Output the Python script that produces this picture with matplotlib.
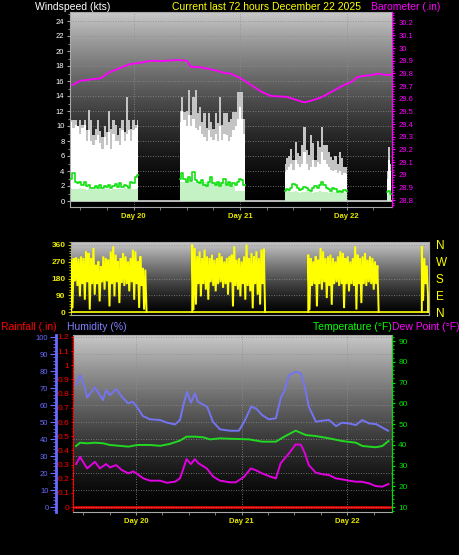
import numpy as np
import matplotlib
matplotlib.use('Agg')
import matplotlib.pyplot as plt
from matplotlib.colors import LinearSegmentedColormap
from matplotlib.ticker import MultipleLocator

plt.rcParams['font.family'] = ['Liberation Sans', 'DejaVu Sans']

# hours are counted from Day 20 00:00
day_hours = [0, 24, 48]
day_labels = ['Day 20', 'Day 21', 'Day 22']

# wind, half-hour bins, four logged stretches
wind_seg_start = [-14.0, 10.5, 34.0, 57.0]
wind_seg_bins = [31, 30, 29, 3]
wind_max = [10.8, 10.8, 10.8, 10.0, 10.8, 10.2, 10.8, 9.5, 12.1, 10.8, 8.8, 9.6, 10.8, 9.4, 8.5, 10.0,
            9.2, 12.0, 9.6, 10.8, 10.2, 8.8, 9.8, 10.8, 9.2, 13.9, 10.8, 9.6, 10.8, 10.2, 10.8,
            12.0, 13.9, 11.9, 12.0, 14.8, 11.5, 13.9, 14.8, 11.7, 12.6, 10.5, 11.7, 9.8, 11.7, 10.6,
            9.6, 11.7, 10.4, 13.9, 10.2, 11.7, 11.7, 10.6, 11.0, 11.9, 11.9, 14.5, 14.5, 14.5, 11.0,
            5.0, 5.8, 6.0, 7.0, 5.5, 7.9, 6.4, 6.0, 7.5, 9.9, 6.8, 6.2, 8.8, 7.7, 5.5, 8.0,
            7.2, 9.9, 7.5, 7.5, 6.5, 5.9, 5.5, 6.0, 5.0, 6.5, 5.7, 4.6, 4.6,
            4.0, 7.2, 5.0]
wind_gust = [10.5, 9.8, 10.2, 10.0, 9.0, 9.8, 10.2, 8.0, 9.5, 8.0, 7.5, 8.2, 8.8, 7.8, 7.0, 8.5,
             7.5, 9.2, 7.0, 9.0, 8.0, 8.0, 7.5, 9.5, 8.0, 9.0, 9.5, 8.0, 9.5, 9.8, 10.2,
             10.5, 12.0, 10.8, 10.0, 11.5, 10.0, 11.0, 9.8, 9.5, 10.0, 9.0, 8.5, 8.0, 9.5, 8.5,
             8.2, 9.0, 8.0, 10.0, 8.2, 9.0, 8.8, 8.0, 8.5, 9.5, 10.0, 11.0, 12.5, 11.0, 9.0,
             3.9, 4.2, 4.5, 5.0, 4.2, 5.5, 5.0, 4.5, 5.0, 6.5, 5.0, 4.2, 4.5, 5.5, 4.5, 5.2,
             5.0, 6.5, 5.5, 5.0, 4.5, 4.2, 4.0, 4.2, 3.8, 4.0, 3.5, 3.8, 3.6,
             3.0, 5.5, 4.0]
wind_avg = [3.0, 3.8, 2.6, 2.4, 2.6, 2.2, 2.5, 2.0, 2.2, 1.8, 1.8, 2.0, 1.8, 2.1, 1.8, 2.0,
            1.9, 2.2, 1.8, 2.0, 2.3, 1.9, 2.4, 1.9, 2.2, 2.0, 1.8, 2.6, 2.4, 3.2, 3.5,
            3.0, 3.8, 2.9, 2.6, 3.2, 2.7, 3.9, 2.8, 2.6, 2.4, 2.8, 2.2, 2.0, 2.5, 3.2,
            2.4, 2.2, 2.6, 2.0, 2.4, 3.0, 2.2, 2.5, 2.0, 2.4, 2.2, 2.6, 2.9, 2.8, 2.2,
            1.4, 1.6, 1.5, 1.8, 2.3, 2.1, 1.8, 1.5, 1.6, 1.9, 1.7, 1.5, 1.4, 1.8, 2.0, 1.7,
            2.2, 2.5, 2.2, 1.8, 1.6, 1.3, 1.8, 1.6, 1.2, 1.4, 1.2, 1.5, 1.4,
            1.2, 1.4, 1.0]
wind_low = [1.7, 1.6, 1.6, 1.6, 1.7, 1.6, 1.6, 1.5, 1.6, 1.6, 1.6, 1.6, 1.6, 1.7, 1.6, 1.6,
            1.6, 1.6, 1.5, 1.6, 1.6, 1.6, 1.6, 1.6, 1.7, 1.6, 1.6, 1.6, 1.6, 1.6, 1.7,
            2.6, 2.6, 2.6, 2.6, 2.6, 2.5, 2.6, 2.6, 2.6, 2.6, 2.5, 2.6, 2.6, 2.6, 2.6,
            2.6, 2.6, 2.5, 2.6, 2.6, 2.6, 2.4, 2.6, 2.6, 2.0, 1.4, 1.4, 1.4, 1.3, 1.3,
            1.2, 1.2, 1.3, 1.2, 1.2, 1.3, 1.2, 1.1, 1.2, 1.2, 1.3, 1.2, 1.2, 1.1, 1.2, 1.2,
            1.3, 1.2, 1.2, 1.2, 1.1, 1.2, 1.2, 1.2, 1.1, 1.2, 1.2, 1.1, 1.2,
            0.8, 1.0, 1.0]

press_hours = [-13.8, -12.0, -7.5, -5.2, -2.9, -0.7, 1.6, 3.8, 6.1, 8.4, 10.0, 12.0, 12.9, 15.2,
               18.1, 20.8, 21.7, 24.2, 26.5, 28.8, 31.0, 34.4, 36.7, 38.5, 40.5, 42.3, 44.6,
               46.9, 49.1, 50.3, 51.4, 53.6, 55.0, 57.1, 58.4]
press = [29.708, 29.742, 29.761, 29.813, 29.845, 29.874, 29.884, 29.900, 29.897, 29.902, 29.906,
         29.900, 29.853, 29.848, 29.827, 29.801, 29.801, 29.761, 29.708, 29.655, 29.621, 29.616,
         29.590, 29.571, 29.590, 29.611, 29.655, 29.700, 29.734, 29.769, 29.779, 29.787,
         29.798, 29.787, 29.793]
press_ticks = [28.8, 28.9, 29.0, 29.1, 29.2, 29.3, 29.4, 29.5, 29.6, 29.7, 29.8, 29.9, 30.0, 30.1, 30.2]

# wind direction, quarter-hour samples
dir_seg_start = [-14.25, 10.25, 33.75, 56.75]
dir_seg1 = [280, 20, 290, 165, 294, 140, 287, 84, 299, 150, 290, 66, 326, 160, 317, 13, 290, 150,
            344, 93, 254, 150, 272, 57, 246, 160, 299, 120, 290, 165, 281, 30, 326, 150, 353, 84,
            308, 160, 272, 48, 290, 156, 317, 140, 299, 150, 272, 111, 290, 160, 335, 66, 326, 150,
            272, 22, 299, 140, 237, 13, 228, 4]
dir_seg2 = [362, 10, 344, 40, 300, 150, 326, 84, 290, 150, 335, 120, 299, 66, 290, 160, 308, 140,
            281, 111, 290, 150, 317, 160, 299, 130, 272, 150, 290, 93, 299, 160, 308, 30, 353, 140,
            281, 120, 290, 84, 272, 150, 299, 66, 362, 140, 290, 111, 317, 20, 299, 150, 326, 93,
            290, 40, 335, 150, 340, 5]
dir_seg3 = [308, 10, 290, 140, 272, 150, 299, 30, 281, 150, 344, 120, 326, 160, 290, 75, 299, 140,
            308, 39, 290, 150, 272, 160, 299, 140, 326, 150, 317, 21, 290, 150, 299, 111, 272, 150,
            290, 140, 353, 13, 308, 150, 290, 48, 299, 150, 317, 140, 281, 160, 299, 150, 290, 120,
            272, 150, 250, 5]
dir_seg4 = [353, 60, 290, 150, 250, 90]
dir_ticks = [0, 90, 180, 270, 360]
dir_names = ['N', 'E', 'S', 'W', 'N']

hum_hours = [-13.6, -12.7, -12.0, -11.1, -9.3, -8.2, -7.5, -6.8, -5.9, -4.5, -3.2, -1.8, -0.7, 0.2,
             1.6, 3.2, 5.5, 7.1, 8.9, 10.0, 10.7, 11.6, 12.5, 13.4, 14.1, 16.2, 17.5, 19.1, 21.4,
             23.4, 24.6, 26.2, 27.3, 28.7, 30.2, 31.8, 33.0, 33.7, 34.8, 36.4, 37.5, 38.4, 39.3,
             40.9, 42.3, 43.9, 45.5, 46.8, 48.4, 50.0, 51.4, 53.0, 54.6, 55.9, 57.3]
hum = [71.8, 77.6, 73.7, 64.5, 70.4, 65.9, 62.9, 68.8, 65.9, 69.4, 64.9, 61.0, 61.9, 59.0, 53.5,
       51.6, 51.2, 49.6, 48.6, 51.2, 59.0, 67.8, 61.4, 66.9, 61.9, 59.0, 50.2, 45.7, 44.9, 44.9,
       50.2, 59.0, 58.0, 54.1, 51.6, 52.2, 64.9, 67.8, 77.6, 79.6, 78.6, 70.8, 59.0, 50.2, 50.8,
       51.2, 47.6, 49.6, 49.2, 48.2, 51.2, 49.2, 48.8, 46.9, 44.9]

temp_hours = [-13.6, -12.7, -11.1, -9.3, -7.4, -5.9, -3.2, -1.7, 0.3, 3.2, 5.5, 7.7, 10.0, 11.5,
              13.4, 15.3, 16.8, 19.1, 21.4, 25.7, 28.7, 31.8, 33.7, 36.3, 38.6, 40.9, 43.9, 46.9,
              50.0, 51.5, 54.5, 56.0, 57.4]
temp = [39.4, 41.0, 40.7, 41.0, 40.7, 39.9, 39.4, 39.1, 39.9, 39.9, 39.5, 40.4, 42.0, 43.9, 43.9,
        43.6, 42.6, 43.1, 42.9, 42.6, 41.5, 41.5, 43.9, 46.8, 44.7, 44.2, 43.1, 41.8, 41.0, 39.4,
        38.8, 39.4, 41.8]

dew_hours = [-13.6, -12.7, -11.1, -9.3, -8.2, -6.8, -5.9, -4.5, -3.2, -1.7, -0.6, 0.3, 1.7, 3.2,
             5.5, 7.0, 8.9, 10.0, 10.8, 11.5, 12.5, 13.4, 14.2, 16.1, 17.6, 19.1, 21.4, 22.7, 24.6,
             26.1, 27.2, 28.7, 30.2, 31.8, 32.9, 34.8, 36.3, 37.5, 38.4, 39.3, 40.9, 42.4, 43.9,
             45.4, 46.9, 48.4, 50.0, 51.3, 53.0, 54.5, 56.0, 57.4]
dew = [30.7, 34.2, 28.6, 31.8, 28.6, 30.7, 29.1, 30.2, 27.8, 26.2, 27.2, 25.9, 23.8, 22.7, 22.7,
       21.7, 22.2, 23.8, 28.6, 33.1, 30.7, 33.1, 31.1, 28.6, 24.6, 22.7, 21.9, 21.9, 24.6, 28.6,
       27.8, 26.2, 24.9, 23.8, 31.1, 35.9, 40.2, 40.0, 35.9, 30.2, 26.5, 25.8, 25.4, 23.8, 23.3,
       22.7, 22.2, 22.2, 21.4, 20.1, 19.8, 21.1]

rain_hours = [-13.8, 57.8]
rain = [0.0, 0.0]
rain_ticks = [0, 0.1, 0.2, 0.3, 0.4, 0.5, 0.6, 0.7, 0.8, 0.9, 1, 1.1, 1.2]

W, H = 459, 555
XLIM = (-14.3, 58.2)
YELLOW = '#ffff00'
MAGENTA = '#ff00ff'
GREEN = '#00e000'
BLUE = '#6a6aff'
RED = '#ff0000'

fig = plt.figure(figsize=(W / 100, H / 100), dpi=100, facecolor='black')
bg = LinearSegmentedColormap.from_list('bg', ['#000000', '#c8c8c8'])


def box(x0, y0, x1, y1):
    return [x0 / W, 1 - y1 / H, (x1 - x0) / W, (y1 - y0) / H]


def shade(ax, gamma):
    grad = np.linspace(0, 1, 256).reshape(-1, 1) ** gamma
    ax.imshow(grad, extent=[0, 1, 0, 1], transform=ax.transAxes, origin='lower',
              aspect='auto', cmap=bg, vmin=0, vmax=1, zorder=0)


def frame(ax):
    ax.set_facecolor('black')
    for s in ax.spines.values():
        s.set_color('#a8a8a8')
    ax.set_axisbelow(True)


def day_axis(ax):
    ax.set_xticks(day_hours, day_labels)
    ax.xaxis.set_minor_locator(MultipleLocator(6))
    ax.tick_params(axis='x', which='both', colors='#909090', labelcolor='#e8e800',
                   labelsize=5.5, length=2, pad=2)
    for t in ax.get_xticklabels():
        t.set_fontweight('bold')
    ax.grid(True, axis='x', color='#909090', ls=(0, (1, 2)), lw=0.6)


# ---- windspeed / barometer ----
ax1 = fig.add_axes(box(70, 12, 392, 207))
frame(ax1)
shade(ax1, 1.6)
ax1.axhline(0, color='#d8d8d8', lw=1.2, zorder=1.5)
i0 = 0
for start, n in zip(wind_seg_start, wind_seg_bins):
    hrs = start + 0.5 * np.arange(n)
    sl = slice(i0, i0 + n)
    ax1.fill_between(hrs, 0, wind_max[sl], step='mid', color='#c4c4c4', lw=0, zorder=2)
    ax1.fill_between(hrs, 0, wind_gust[sl], step='mid', color='white', lw=0, zorder=3)
    ax1.fill_between(hrs, 0, wind_low[sl], step='mid', color='#c4f2c4', lw=0, zorder=4)
    ax1.plot(hrs, wind_avg[sl], drawstyle='steps-mid', color='#10e010', lw=1.2, zorder=5)
    i0 += n
ax1.set_xlim(*XLIM)
ax1.set_ylim(-0.8, 25.2)
ax1.set_yticks(range(0, 25, 2))
ax1.yaxis.set_minor_locator(MultipleLocator(1))
ax1.tick_params(axis='y', which='both', colors='#a0a0a0', labelcolor='white',
                labelsize=5.5, length=2.5, pad=1.5)
ax1.tick_params(axis='y', which='minor', length=1.5)
ax1.grid(True, axis='y', color='#8c8c8c', ls=(0, (1, 2)), lw=0.6)
day_axis(ax1)

ax1p = ax1.twinx()
ax1p.plot(press_hours, press, color=MAGENTA, lw=1.3)
ax1p.set_ylim(28.745, 30.285)
ax1p.set_yticks(press_ticks, ['%g' % v for v in press_ticks])
ax1p.yaxis.set_minor_locator(MultipleLocator(0.02))
ax1p.tick_params(axis='y', which='both', colors=MAGENTA, labelsize=5.5, length=2.5, pad=2)
ax1p.tick_params(axis='y', which='minor', length=1.5)
ax1p.spines['right'].set_color(MAGENTA)
ax1p.spines['right'].set_linestyle((0, (2, 1)))
for s in ['left', 'top', 'bottom']:
    ax1p.spines[s].set_visible(False)

# ---- wind direction ----
ax2 = fig.add_axes(box(71, 242, 429, 315))
frame(ax2)
shade(ax2, 1.3)
ax2.axhline(0, color=YELLOW, lw=1.2, zorder=2)
for start, vals in zip(dir_seg_start, [dir_seg1, dir_seg2, dir_seg3, dir_seg4]):
    hrs = start + 0.25 * np.arange(len(vals))
    ax2.plot(np.r_[hrs[0], hrs, hrs[-1]], np.r_[0, vals, 0], color=YELLOW, lw=1.4,
             solid_joinstyle='miter', zorder=3)
ax2.set_xlim(*XLIM)
ax2.set_ylim(-16, 376)
ax2.set_xticks([])
ax2.set_yticks(dir_ticks)
ax2.yaxis.set_minor_locator(MultipleLocator(15))
ax2.tick_params(axis='y', which='both', colors='#c8c800', labelcolor='#e8e800',
                labelsize=6, length=2.5, pad=1.5)
ax2.tick_params(axis='y', which='minor', length=1.5)
for t in ax2.get_yticklabels():
    t.set_fontweight('bold')
ax2.grid(True, axis='y', color='#8c8c8c', ls=(0, (1, 2)), lw=0.6)
ax2r = ax2.twinx()
ax2r.set_ylim(-16, 376)
ax2r.set_yticks(dir_ticks, dir_names)
ax2r.tick_params(axis='y', colors=YELLOW, labelsize=8.5, length=0, pad=5)
for s in ['left', 'top', 'bottom']:
    ax2r.spines[s].set_visible(False)
ax2r.spines['right'].set_color('#a8a8a8')

# ---- rainfall / humidity / temperature / dew point ----
ax3 = fig.add_axes(box(73, 335, 392, 512))
frame(ax3)
shade(ax3, 1.4)
ax3.plot(rain_hours, rain, color=RED, lw=1.8, zorder=3)
ax3.set_xlim(*XLIM)
ax3.set_ylim(-0.035, 1.214)
ax3.set_yticks(rain_ticks, ['%g' % v for v in rain_ticks])
ax3.yaxis.set_minor_locator(MultipleLocator(0.02))
ax3.tick_params(axis='y', which='both', colors=RED, labelsize=6, length=1.5, pad=1)
ax3.tick_params(axis='y', which='minor', length=0.8)
ax3.spines['left'].set_color(RED)
ax3.spines['left'].set_linestyle((0, (1, 1)))
day_axis(ax3)

ax3h = ax3.twinx()
ax3h.yaxis.set_ticks_position('left')
ax3h.spines['left'].set_position(('outward', 12.2))
ax3h.spines['left'].set_color(BLUE)
ax3h.spines['left'].set_linewidth(2)
for s in ['right', 'top', 'bottom']:
    ax3h.spines[s].set_visible(False)
ax3h.plot(hum_hours, hum, color='#7474f2', lw=1.4)
ax3h.set_ylim(-2.9, 101.2)
ax3h.set_yticks(range(0, 101, 10))
ax3h.yaxis.set_minor_locator(MultipleLocator(2))
ax3h.tick_params(axis='y', which='both', colors=BLUE, labelsize=5.5, length=4, pad=1.5)
ax3h.tick_params(axis='y', which='minor', length=2)
ax3h.grid(True, axis='y', color='#8c8c8c', ls=(0, (1, 2)), lw=0.6)

ax3t = ax3.twinx()
ax3t.plot(temp_hours, temp, color='#22d822', lw=1.4)
ax3t.plot(dew_hours, dew, color='#e000e0', lw=1.4)
ax3t.set_ylim(7.6, 92.9)
ax3t.set_yticks(range(10, 91, 10))
ax3t.yaxis.set_minor_locator(MultipleLocator(2))
ax3t.tick_params(axis='y', which='both', colors=GREEN, labelsize=6, length=2.5, pad=2)
ax3t.tick_params(axis='y', which='minor', length=1.5)
ax3t.spines['right'].set_color(GREEN)
ax3t.spines['right'].set_linestyle((0, (2, 1)))
for s in ['left', 'top', 'bottom']:
    ax3t.spines[s].set_visible(False)

# ---- titles ----
def label(x, y, s, color, ha='left'):
    fig.text(x / W, 1 - y / H, s, color=color, fontsize=7.5, ha=ha, va='center')


label(35, 6.5, 'Windspeed (kts)', 'white')
label(267, 6.5, 'Current last 72 hours December 22 2025', YELLOW, ha='center')
label(440, 6.5, 'Barometer (.in)', MAGENTA, ha='right')
label(1, 327, 'Rainfall (.in)', RED)
label(67, 327, 'Humidity (%)', '#8080ff')
label(313, 327, 'Temperature (°F)', '#00ff00')
label(392, 327, 'Dew Point (°F)', MAGENTA)

fig.savefig('out.png', dpi=100, facecolor='black')
